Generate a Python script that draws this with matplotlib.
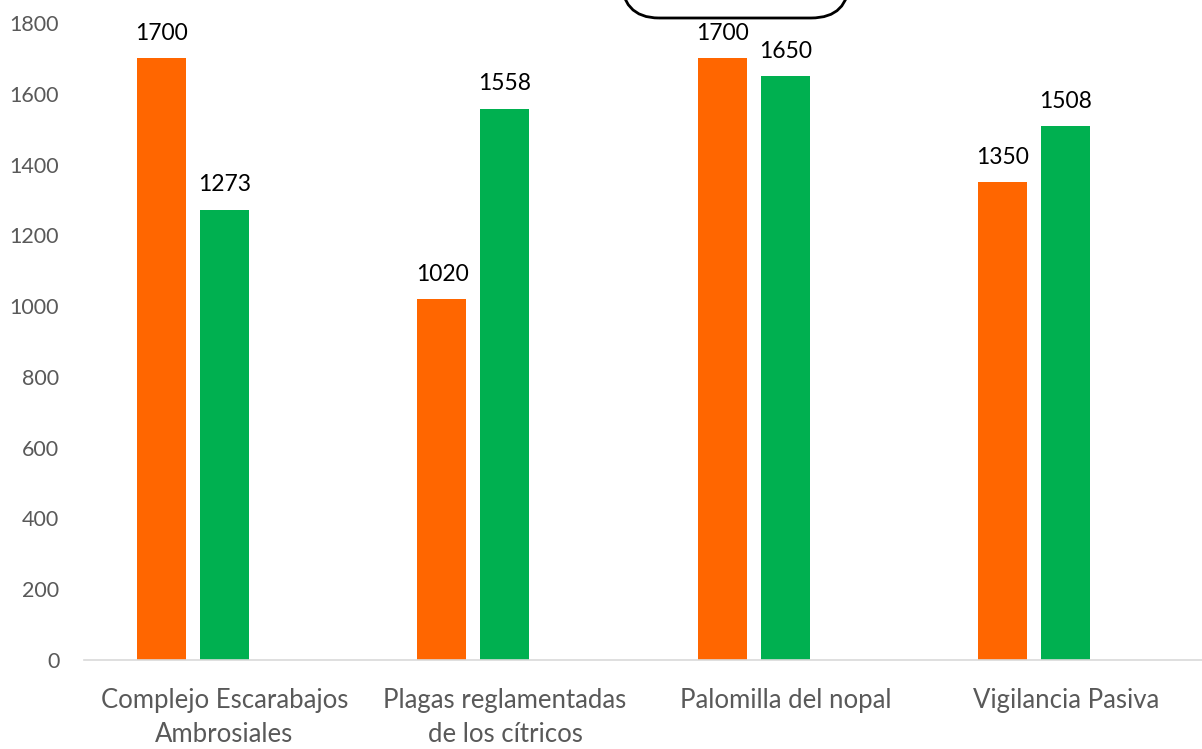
import matplotlib
matplotlib.use('Agg')
import matplotlib.pyplot as plt
from matplotlib.patches import FancyBboxPatch
import numpy as np

categories = ['Complejo Escarabajos\nAmbrosiales', 'Plagas reglamentadas\nde los cítricos',
              'Palomilla del nopal', 'Vigilancia Pasiva']
serie_naranja = [1700, 1020, 1700, 1350]
serie_verde = [1273, 1558, 1650, 1508]
yticks = [0, 200, 400, 600, 800, 1000, 1200, 1400, 1600, 1800]

plt.rcParams['font.family'] = ['Lato', 'DejaVu Sans']

fig = plt.figure(figsize=(12.02, 7.49), dpi=100)
ax = fig.add_axes([0.0701, 0.1188, 0.9334, 0.8505])

x = np.arange(len(categories))
pitch = 0.2246
width = 0.1747
b1 = ax.bar(x - pitch, serie_naranja, width, color='#FF6600')
b2 = ax.bar(x, serie_verde, width, color='#00B050')

for bars in (b1, b2):
    for b in bars:
        ax.text(b.get_x() + b.get_width() / 2, b.get_height() + 40, str(int(b.get_height())),
                ha='center', va='bottom', fontsize=16.5, color='black')

ax.set_xlim(-0.5, 3.5)
ax.set_ylim(0, 1800)
ax.set_yticks(yticks)
ax.set_xticks(x)
ax.set_xticklabels(categories, fontsize=18.5, color='#595959', linespacing=1.45)
ax.tick_params(axis='y', length=0, labelsize=15.5, labelcolor='#595959', pad=18)
ax.tick_params(axis='x', length=0, pad=20)
for s in ['top', 'right', 'left']:
    ax.spines[s].set_visible(False)
ax.spines['bottom'].set_color('#D9D9D9')
ax.spines['bottom'].set_linewidth(1.2)

# caja redondeada cortada arriba
box = FancyBboxPatch((621, 731), 228, 80, boxstyle='round,pad=0,rounding_size=38',
                     transform=None, fill=False, edgecolor='black', linewidth=2, clip_on=False)
fig.patches.append(box)

fig.savefig('out.png', dpi=100)
